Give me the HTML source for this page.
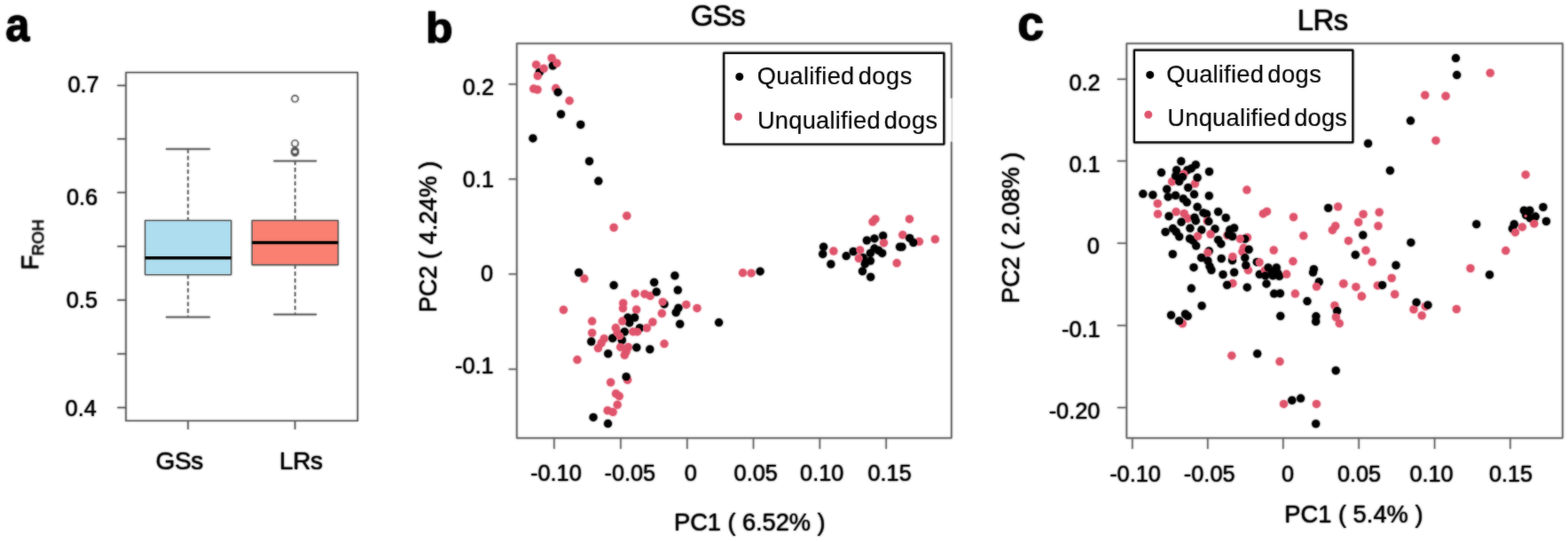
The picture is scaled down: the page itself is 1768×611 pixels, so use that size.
<!DOCTYPE html>
<html lang="en"><head><meta charset="utf-8"><title>Figure</title>
<style>
html,body{margin:0;padding:0;background:#fff;}
body{width:1768px;height:611px;overflow:hidden;}
svg{display:block;}
svg text{font-family:"Liberation Sans",sans-serif;fill:#000;white-space:pre;stroke:#000;stroke-width:0.15px;stroke-linejoin:round;}
</style></head><body>
<svg width="1768" height="611" viewBox="0 0 1768 611">
<defs><filter id="soft" x="0" y="0" width="1768" height="611" filterUnits="userSpaceOnUse" color-interpolation-filters="sRGB"><feGaussianBlur in="SourceGraphic" stdDeviation="0.8" result="b"/><feComponentTransfer in="SourceGraphic" result="s"><feFuncA type="linear" slope="0.72"/></feComponentTransfer><feMerge><feMergeNode in="b"/><feMergeNode in="s"/></feMerge></filter></defs>
<rect x="0" y="0" width="1768" height="611" fill="#fff"/>
<g filter="url(#soft)">
<line x1="212.00" y1="168.10" x2="212.00" y2="248.60" stroke="#555555" stroke-width="1.4" stroke-dasharray="4.6 3.1"/>
<line x1="212.00" y1="309.60" x2="212.00" y2="357.40" stroke="#555555" stroke-width="1.4" stroke-dasharray="4.6 3.1"/>
<line x1="187.00" y1="168.10" x2="236.90" y2="168.10" stroke="#555555" stroke-width="1.5" />
<line x1="187.00" y1="357.40" x2="236.90" y2="357.40" stroke="#555555" stroke-width="1.5" />
<rect x="163.70" y="248.60" width="96.90" height="61.00" stroke="#555555" stroke-width="1.3" fill="#ADDDEE" stroke-linejoin="round"/>
<line x1="163.70" y1="290.80" x2="260.60" y2="290.80" stroke="#000" stroke-width="3.4" />
<line x1="332.70" y1="181.40" x2="332.70" y2="248.60" stroke="#555555" stroke-width="1.4" stroke-dasharray="4.6 3.1"/>
<line x1="332.70" y1="298.50" x2="332.70" y2="354.50" stroke="#555555" stroke-width="1.4" stroke-dasharray="4.6 3.1"/>
<line x1="308.40" y1="181.40" x2="357.00" y2="181.40" stroke="#555555" stroke-width="1.5" />
<line x1="308.40" y1="354.50" x2="357.00" y2="354.50" stroke="#555555" stroke-width="1.5" />
<rect x="284.30" y="248.60" width="96.80" height="49.90" stroke="#555555" stroke-width="1.3" fill="#FA8072" stroke-linejoin="round"/>
<line x1="284.30" y1="273.50" x2="381.10" y2="273.50" stroke="#000" stroke-width="3.4" />
<circle cx="332.6" cy="111.3" r="3.7" fill="none" stroke="#555555" stroke-width="1.2"/>
<circle cx="332.6" cy="161.7" r="3.7" fill="none" stroke="#555555" stroke-width="1.2"/>
<circle cx="332.6" cy="170.0" r="3.7" fill="none" stroke="#555555" stroke-width="1.2"/>
<circle cx="332.6" cy="171.0" r="3.7" fill="none" stroke="#555555" stroke-width="1.2"/>
<circle cx="332.6" cy="172.0" r="3.7" fill="none" stroke="#555555" stroke-width="1.2"/>
<rect x="142.00" y="81.60" width="261.30" height="392.80" stroke="#555555" stroke-width="1.35" fill="none" stroke-linejoin="round"/>
<line x1="132.30" y1="96.40" x2="142.00" y2="96.40" stroke="#555555" stroke-width="1.35" />
<line x1="132.30" y1="156.60" x2="142.00" y2="156.60" stroke="#555555" stroke-width="1.35" />
<line x1="132.30" y1="217.00" x2="142.00" y2="217.00" stroke="#555555" stroke-width="1.35" />
<line x1="132.30" y1="277.70" x2="142.00" y2="277.70" stroke="#555555" stroke-width="1.35" />
<line x1="132.30" y1="338.30" x2="142.00" y2="338.30" stroke="#555555" stroke-width="1.35" />
<line x1="132.30" y1="398.90" x2="142.00" y2="398.90" stroke="#555555" stroke-width="1.35" />
<line x1="132.30" y1="459.50" x2="142.00" y2="459.50" stroke="#555555" stroke-width="1.35" />
<line x1="212.00" y1="474.40" x2="212.00" y2="484.00" stroke="#555555" stroke-width="1.35" />
<line x1="332.60" y1="474.40" x2="332.60" y2="484.00" stroke="#555555" stroke-width="1.35" />
<text x="76.39" y="104.20" font-size="25.3" font-weight="normal" style="letter-spacing:0.000px">0.7</text>
<text x="74.89" y="231.20" font-size="25.3" font-weight="normal" style="letter-spacing:0.000px">0.6</text>
<text x="74.79" y="347.30" font-size="25.3" font-weight="normal" style="letter-spacing:0.000px">0.5</text>
<text x="73.59" y="469.20" font-size="25.3" font-weight="normal" style="letter-spacing:0.000px">0.4</text>
<text x="175.60" y="529.00" font-size="28.0" font-weight="normal" style="letter-spacing:-0.440px">GSs</text>
<text x="315.06" y="529.00" font-size="28.0" font-weight="normal" style="letter-spacing:-0.390px">LRs</text>
<text transform="translate(6.19,45.72) scale(0.9138,1)" font-size="53.27" font-weight="bold" style="stroke-width:0.7px">a</text>
<text transform="translate(43.30,304.42) rotate(-90)" font-size="27.8">F<tspan x="16.28" y="6.0" font-size="18" style="letter-spacing:0.360px">ROH</tspan></text>
<circle cx="608.3" cy="81.4" r="4.5" fill="#000"/>
<circle cx="604.6" cy="72.9" r="4.5" fill="#DF536B"/>
<circle cx="613.1" cy="77.3" r="4.5" fill="#DF536B"/>
<circle cx="606.3" cy="85.5" r="4.5" fill="#DF536B"/>
<circle cx="623.3" cy="74.1" r="4.5" fill="#000"/>
<circle cx="622.1" cy="65.5" r="4.5" fill="#DF536B"/>
<circle cx="627.8" cy="71.2" r="4.5" fill="#DF536B"/>
<circle cx="601.7" cy="100.1" r="4.5" fill="#DF536B"/>
<circle cx="606.0" cy="101.0" r="4.5" fill="#DF536B"/>
<circle cx="626.7" cy="99.6" r="4.5" fill="#DF536B"/>
<circle cx="629.1" cy="103.9" r="4.5" fill="#000"/>
<circle cx="642.1" cy="113.6" r="4.5" fill="#DF536B"/>
<circle cx="632.5" cy="128.7" r="4.5" fill="#000"/>
<circle cx="654.7" cy="140.5" r="4.5" fill="#000"/>
<circle cx="600.9" cy="155.9" r="4.5" fill="#000"/>
<circle cx="664.5" cy="181.8" r="4.5" fill="#000"/>
<circle cx="674.8" cy="204.1" r="4.5" fill="#000"/>
<circle cx="706.8" cy="243.3" r="4.5" fill="#DF536B"/>
<circle cx="692.1" cy="256.5" r="4.5" fill="#DF536B"/>
<circle cx="652.6" cy="307.3" r="4.5" fill="#000"/>
<circle cx="658.8" cy="314.1" r="4.5" fill="#DF536B"/>
<circle cx="692.1" cy="321.6" r="4.5" fill="#000"/>
<circle cx="837.5" cy="307.6" r="4.5" fill="#DF536B"/>
<circle cx="847.1" cy="307.9" r="4.5" fill="#DF536B"/>
<circle cx="857.1" cy="305.9" r="4.5" fill="#000"/>
<circle cx="810.6" cy="363.6" r="4.5" fill="#000"/>
<circle cx="716.2" cy="330.9" r="4.5" fill="#DF536B"/>
<circle cx="726.9" cy="331.4" r="4.5" fill="#DF536B"/>
<circle cx="733.2" cy="333.6" r="4.5" fill="#DF536B"/>
<circle cx="737.6" cy="318.2" r="4.5" fill="#000"/>
<circle cx="740.2" cy="329.0" r="4.5" fill="#000"/>
<circle cx="760.9" cy="310.7" r="4.5" fill="#000"/>
<circle cx="764.3" cy="327.0" r="4.5" fill="#000"/>
<circle cx="749.0" cy="342.7" r="4.5" fill="#000"/>
<circle cx="747.2" cy="340.4" r="4.5" fill="#DF536B"/>
<circle cx="764.9" cy="347.2" r="4.5" fill="#000"/>
<circle cx="762.2" cy="352.2" r="4.5" fill="#000"/>
<circle cx="773.8" cy="343.4" r="4.5" fill="#DF536B"/>
<circle cx="786.0" cy="347.4" r="4.5" fill="#DF536B"/>
<circle cx="702.7" cy="341.8" r="4.5" fill="#DF536B"/>
<circle cx="702.4" cy="347.6" r="4.5" fill="#DF536B"/>
<circle cx="717.6" cy="349.0" r="4.5" fill="#DF536B"/>
<circle cx="746.3" cy="353.3" r="4.5" fill="#DF536B"/>
<circle cx="707.9" cy="358.0" r="4.5" fill="#000"/>
<circle cx="715.6" cy="358.0" r="4.5" fill="#000"/>
<circle cx="709.7" cy="363.9" r="4.5" fill="#000"/>
<circle cx="701.8" cy="362.1" r="4.5" fill="#DF536B"/>
<circle cx="667.6" cy="362.1" r="4.5" fill="#DF536B"/>
<circle cx="735.9" cy="363.0" r="4.5" fill="#DF536B"/>
<circle cx="721.4" cy="369.8" r="4.5" fill="#000"/>
<circle cx="729.3" cy="369.8" r="4.5" fill="#DF536B"/>
<circle cx="713.8" cy="373.9" r="4.5" fill="#DF536B"/>
<circle cx="718.7" cy="373.9" r="4.5" fill="#DF536B"/>
<circle cx="766.7" cy="365.3" r="4.5" fill="#000"/>
<circle cx="690.7" cy="381.3" r="4.5" fill="#000"/>
<circle cx="701.3" cy="383.5" r="4.5" fill="#000"/>
<circle cx="694.3" cy="369.6" r="4.5" fill="#DF536B"/>
<circle cx="696.1" cy="375.2" r="4.5" fill="#DF536B"/>
<circle cx="704.2" cy="374.0" r="4.5" fill="#000"/>
<circle cx="698.8" cy="378.8" r="4.5" fill="#DF536B"/>
<circle cx="667.6" cy="375.2" r="4.5" fill="#DF536B"/>
<circle cx="681.2" cy="381.7" r="4.5" fill="#DF536B"/>
<circle cx="666.7" cy="385.0" r="4.5" fill="#000"/>
<circle cx="749.0" cy="387.6" r="4.5" fill="#DF536B"/>
<circle cx="678.0" cy="386.7" r="4.5" fill="#DF536B"/>
<circle cx="674.4" cy="392.6" r="4.5" fill="#DF536B"/>
<circle cx="699.7" cy="391.3" r="4.5" fill="#DF536B"/>
<circle cx="708.3" cy="391.3" r="4.5" fill="#DF536B"/>
<circle cx="706.1" cy="396.2" r="4.5" fill="#DF536B"/>
<circle cx="704.3" cy="400.3" r="4.5" fill="#DF536B"/>
<circle cx="717.8" cy="391.7" r="4.5" fill="#000"/>
<circle cx="732.8" cy="393.7" r="4.5" fill="#000"/>
<circle cx="685.7" cy="398.8" r="4.5" fill="#000"/>
<circle cx="650.9" cy="405.6" r="4.5" fill="#DF536B"/>
<circle cx="635.4" cy="349.3" r="4.5" fill="#DF536B"/>
<circle cx="707.6" cy="428.2" r="4.5" fill="#DF536B"/>
<circle cx="706.1" cy="424.8" r="4.5" fill="#000"/>
<circle cx="688.6" cy="431.0" r="4.5" fill="#DF536B"/>
<circle cx="694.5" cy="443.7" r="4.5" fill="#DF536B"/>
<circle cx="698.3" cy="446.6" r="4.5" fill="#DF536B"/>
<circle cx="696.2" cy="456.3" r="4.5" fill="#DF536B"/>
<circle cx="685.1" cy="462.8" r="4.5" fill="#DF536B"/>
<circle cx="691.1" cy="464.5" r="4.5" fill="#DF536B"/>
<circle cx="669.0" cy="470.4" r="4.5" fill="#000"/>
<circle cx="685.5" cy="477.6" r="4.5" fill="#000"/>
<circle cx="987.0" cy="246.9" r="4.5" fill="#DF536B"/>
<circle cx="984.0" cy="250.1" r="4.5" fill="#DF536B"/>
<circle cx="1025.5" cy="246.9" r="4.5" fill="#DF536B"/>
<circle cx="1017.8" cy="264.7" r="4.5" fill="#DF536B"/>
<circle cx="1036.4" cy="272.2" r="4.5" fill="#DF536B"/>
<circle cx="1025.7" cy="268.4" r="4.5" fill="#000"/>
<circle cx="1029.9" cy="273.5" r="4.5" fill="#000"/>
<circle cx="1054.4" cy="269.8" r="4.5" fill="#DF536B"/>
<circle cx="995.7" cy="265.8" r="4.5" fill="#000"/>
<circle cx="986.0" cy="268.9" r="4.5" fill="#000"/>
<circle cx="977.4" cy="271.0" r="4.5" fill="#000"/>
<circle cx="996.5" cy="273.8" r="4.5" fill="#DF536B"/>
<circle cx="1014.6" cy="278.2" r="4.5" fill="#000"/>
<circle cx="1017.0" cy="278.2" r="4.5" fill="#000"/>
<circle cx="928.6" cy="278.3" r="4.5" fill="#000"/>
<circle cx="927.7" cy="286.4" r="4.5" fill="#000"/>
<circle cx="939.9" cy="283.0" r="4.5" fill="#DF536B"/>
<circle cx="936.9" cy="297.8" r="4.5" fill="#000"/>
<circle cx="954.2" cy="288.6" r="4.5" fill="#000"/>
<circle cx="962.2" cy="283.5" r="4.5" fill="#000"/>
<circle cx="969.7" cy="281.9" r="4.5" fill="#DF536B"/>
<circle cx="973.3" cy="290.5" r="4.5" fill="#000"/>
<circle cx="968.4" cy="291.3" r="4.5" fill="#DF536B"/>
<circle cx="986.0" cy="280.1" r="4.5" fill="#000"/>
<circle cx="994.7" cy="285.4" r="4.5" fill="#000"/>
<circle cx="990.6" cy="282.3" r="4.5" fill="#000"/>
<circle cx="981.4" cy="285.4" r="4.5" fill="#000"/>
<circle cx="981.4" cy="294.0" r="4.5" fill="#000"/>
<circle cx="975.3" cy="297.6" r="4.5" fill="#000"/>
<circle cx="972.5" cy="305.7" r="4.5" fill="#000"/>
<circle cx="981.7" cy="312.3" r="4.5" fill="#000"/>
<circle cx="1011.2" cy="296.6" r="4.5" fill="#DF536B"/>
<rect x="582.70" y="49.00" width="490.10" height="444.85" stroke="#636363" stroke-width="1.5" fill="none" stroke-linejoin="round"/>
<line x1="1072.80" y1="111.00" x2="1072.80" y2="159.50" stroke="#fff" stroke-width="3.4" />
<line x1="1073.30" y1="110.60" x2="1073.30" y2="159.80" stroke="#d2d2d2" stroke-width="1.5" />
<line x1="573.60" y1="94.90" x2="582.70" y2="94.90" stroke="#636363" stroke-width="1.35" />
<line x1="573.60" y1="201.90" x2="582.70" y2="201.90" stroke="#636363" stroke-width="1.35" />
<line x1="573.60" y1="309.00" x2="582.70" y2="309.00" stroke="#636363" stroke-width="1.35" />
<line x1="573.60" y1="416.20" x2="582.70" y2="416.20" stroke="#636363" stroke-width="1.35" />
<line x1="624.80" y1="493.85" x2="624.80" y2="506.00" stroke="#636363" stroke-width="1.35" />
<line x1="699.90" y1="493.85" x2="699.90" y2="506.00" stroke="#636363" stroke-width="1.35" />
<line x1="774.80" y1="493.85" x2="774.80" y2="506.00" stroke="#636363" stroke-width="1.35" />
<line x1="849.50" y1="493.85" x2="849.50" y2="506.00" stroke="#636363" stroke-width="1.35" />
<line x1="924.40" y1="493.85" x2="924.40" y2="506.00" stroke="#636363" stroke-width="1.35" />
<line x1="999.20" y1="493.85" x2="999.20" y2="506.00" stroke="#636363" stroke-width="1.35" />
<text x="521.79" y="107.00" font-size="25.3" font-weight="normal" style="letter-spacing:0.000px">0.2</text>
<text x="521.79" y="210.90" font-size="25.3" font-weight="normal" style="letter-spacing:0.000px">0.1</text>
<text x="542.09" y="316.50" font-size="25.3" font-weight="normal" style="letter-spacing:0.000px">0</text>
<text x="513.06" y="421.00" font-size="25.3" font-weight="normal" style="letter-spacing:0.000px">-0.1</text>
<text x="598.06" y="541.90" font-size="25.3" font-weight="normal" style="letter-spacing:0.000px">-0.10</text>
<text x="681.46" y="541.90" font-size="25.3" font-weight="normal" style="letter-spacing:0.000px">-0.05</text>
<text x="771.69" y="541.90" font-size="25.3" font-weight="normal" style="letter-spacing:0.000px">0</text>
<text x="827.59" y="541.90" font-size="25.3" font-weight="normal" style="letter-spacing:0.000px">0.05</text>
<text x="902.09" y="541.90" font-size="25.3" font-weight="normal" style="letter-spacing:0.000px">0.10</text>
<text x="978.49" y="541.90" font-size="25.3" font-weight="normal" style="letter-spacing:0.000px">0.15</text>
<text x="760.02" y="598.00" font-size="27.3" font-weight="normal" style="letter-spacing:-0.069px">PC1 ( 6.52% )</text>
<text transform="translate(491.80,352.28) rotate(-90)" font-size="27.3" font-weight="normal" style="letter-spacing:-0.077px">PC2 ( 4.24% )</text>
<text x="778.85" y="29.30" font-size="33.0" font-weight="normal" style="letter-spacing:-1.140px">GSs</text>
<text transform="translate(480.01,47.57) scale(1.0479,1)" font-size="47.62" font-weight="bold" style="stroke-width:0.7px">b</text>
<rect x="816.3" y="59.85" width="248.00" height="102.65" fill="#fff" stroke="#000" stroke-width="2.2" stroke-linejoin="round"/>
<circle cx="833.8" cy="86.5" r="4.5" fill="#000"/>
<circle cx="832.4" cy="131.5" r="4.5" fill="#DF536B"/>
<text y="94.80" font-size="27.3"><tspan x="853.77" style="letter-spacing:0.213px">Qualified</tspan> <tspan x="967.71" style="letter-spacing:0.481px">dogs</tspan></text>
<text y="144.50" font-size="27.3"><tspan x="853.95" style="letter-spacing:0.219px">Unqualified</tspan> <tspan x="996.81" style="letter-spacing:0.381px">dogs</tspan></text>
<circle cx="1641.5" cy="65.6" r="4.5" fill="#000"/>
<circle cx="1642.7" cy="84.6" r="4.5" fill="#000"/>
<circle cx="1680.3" cy="82.2" r="4.5" fill="#DF536B"/>
<circle cx="1606.8" cy="107.3" r="4.5" fill="#DF536B"/>
<circle cx="1630.1" cy="108.2" r="4.5" fill="#DF536B"/>
<circle cx="1590.5" cy="136.1" r="4.5" fill="#000"/>
<circle cx="1542.6" cy="161.7" r="4.5" fill="#000"/>
<circle cx="1619.0" cy="158.4" r="4.5" fill="#DF536B"/>
<circle cx="1567.4" cy="192.3" r="4.5" fill="#000"/>
<circle cx="1720.2" cy="196.9" r="4.5" fill="#DF536B"/>
<circle cx="1508.7" cy="233.0" r="4.5" fill="#DF536B"/>
<circle cx="1497.7" cy="234.5" r="4.5" fill="#000"/>
<circle cx="1537.1" cy="241.5" r="4.5" fill="#DF536B"/>
<circle cx="1555.2" cy="239.3" r="4.5" fill="#DF536B"/>
<circle cx="1531.7" cy="250.5" r="4.5" fill="#DF536B"/>
<circle cx="1554.0" cy="254.8" r="4.5" fill="#DF536B"/>
<circle cx="1505.8" cy="254.8" r="4.5" fill="#DF536B"/>
<circle cx="1502.4" cy="259.4" r="4.5" fill="#DF536B"/>
<circle cx="1536.8" cy="265.0" r="4.5" fill="#000"/>
<circle cx="1520.5" cy="271.4" r="4.5" fill="#DF536B"/>
<circle cx="1540.0" cy="282.2" r="4.5" fill="#DF536B"/>
<circle cx="1528.3" cy="287.3" r="4.5" fill="#000"/>
<circle cx="1547.2" cy="295.2" r="4.5" fill="#DF536B"/>
<circle cx="1590.9" cy="273.4" r="4.5" fill="#000"/>
<circle cx="1664.8" cy="252.8" r="4.5" fill="#000"/>
<circle cx="1697.8" cy="282.6" r="4.5" fill="#DF536B"/>
<circle cx="1740.0" cy="233.5" r="4.5" fill="#000"/>
<circle cx="1743.5" cy="249.5" r="4.5" fill="#000"/>
<circle cx="1718.4" cy="237.3" r="4.5" fill="#000"/>
<circle cx="1724.9" cy="237.3" r="4.5" fill="#000"/>
<circle cx="1720.7" cy="242.6" r="4.5" fill="#000"/>
<circle cx="1725.2" cy="245.7" r="4.5" fill="#000"/>
<circle cx="1731.3" cy="244.1" r="4.5" fill="#000"/>
<circle cx="1720.3" cy="243.5" r="1.7" fill="#DF536B"/>
<circle cx="1729.8" cy="252.0" r="4.5" fill="#DF536B"/>
<circle cx="1707.3" cy="252.8" r="4.5" fill="#000"/>
<circle cx="1705.4" cy="257.8" r="4.5" fill="#000"/>
<circle cx="1716.4" cy="255.9" r="4.5" fill="#DF536B"/>
<circle cx="1708.5" cy="261.9" r="4.5" fill="#DF536B"/>
<circle cx="1574.0" cy="299.0" r="4.5" fill="#000"/>
<circle cx="1658.0" cy="302.5" r="4.5" fill="#DF536B"/>
<circle cx="1679.6" cy="309.7" r="4.5" fill="#000"/>
<circle cx="1569.2" cy="313.5" r="4.5" fill="#DF536B"/>
<circle cx="1514.8" cy="319.9" r="4.5" fill="#DF536B"/>
<circle cx="1528.9" cy="323.4" r="4.5" fill="#DF536B"/>
<circle cx="1553.3" cy="321.9" r="4.5" fill="#DF536B"/>
<circle cx="1558.6" cy="321.4" r="4.5" fill="#000"/>
<circle cx="1535.3" cy="333.9" r="4.5" fill="#DF536B"/>
<circle cx="1572.7" cy="331.7" r="4.5" fill="#DF536B"/>
<circle cx="1597.1" cy="340.9" r="4.5" fill="#000"/>
<circle cx="1607.3" cy="345.4" r="4.5" fill="#DF536B"/>
<circle cx="1610.0" cy="343.9" r="4.5" fill="#000"/>
<circle cx="1594.0" cy="348.8" r="4.5" fill="#DF536B"/>
<circle cx="1603.2" cy="355.8" r="4.5" fill="#DF536B"/>
<circle cx="1642.3" cy="348.5" r="4.5" fill="#DF536B"/>
<circle cx="1504.9" cy="344.5" r="4.5" fill="#DF536B"/>
<circle cx="1507.7" cy="350.6" r="4.5" fill="#000"/>
<circle cx="1506.4" cy="357.5" r="4.5" fill="#DF536B"/>
<circle cx="1510.3" cy="364.6" r="4.5" fill="#DF536B"/>
<circle cx="1331.8" cy="181.8" r="4.5" fill="#000"/>
<circle cx="1348.3" cy="185.8" r="4.5" fill="#000"/>
<circle cx="1343.3" cy="189.9" r="4.5" fill="#000"/>
<circle cx="1338.8" cy="191.7" r="4.5" fill="#000"/>
<circle cx="1326.6" cy="191.7" r="4.5" fill="#000"/>
<circle cx="1309.5" cy="194.6" r="4.5" fill="#000"/>
<circle cx="1363.5" cy="193.5" r="4.5" fill="#000"/>
<circle cx="1334.9" cy="196.0" r="4.5" fill="#DF536B"/>
<circle cx="1321.6" cy="204.8" r="4.5" fill="#DF536B"/>
<circle cx="1333.4" cy="199.4" r="4.5" fill="#000"/>
<circle cx="1325.6" cy="198.4" r="4.5" fill="#000"/>
<circle cx="1347.4" cy="207.1" r="4.5" fill="#DF536B"/>
<circle cx="1350.1" cy="200.3" r="4.5" fill="#000"/>
<circle cx="1329.6" cy="204.5" r="4.5" fill="#000"/>
<circle cx="1339.7" cy="211.5" r="4.5" fill="#000"/>
<circle cx="1315.7" cy="213.2" r="4.5" fill="#000"/>
<circle cx="1288.8" cy="218.6" r="4.5" fill="#000"/>
<circle cx="1299.9" cy="219.8" r="4.5" fill="#000"/>
<circle cx="1325.5" cy="220.3" r="4.5" fill="#000"/>
<circle cx="1317.1" cy="221.9" r="4.5" fill="#000"/>
<circle cx="1346.5" cy="219.1" r="4.5" fill="#000"/>
<circle cx="1334.2" cy="224.0" r="4.5" fill="#000"/>
<circle cx="1363.3" cy="220.7" r="4.5" fill="#000"/>
<circle cx="1405.9" cy="214.1" r="4.5" fill="#DF536B"/>
<circle cx="1305.3" cy="229.5" r="4.5" fill="#DF536B"/>
<circle cx="1338.3" cy="228.1" r="4.5" fill="#000"/>
<circle cx="1305.5" cy="241.2" r="4.5" fill="#DF536B"/>
<circle cx="1350.1" cy="233.3" r="4.5" fill="#000"/>
<circle cx="1356.9" cy="239.9" r="4.5" fill="#000"/>
<circle cx="1360.5" cy="241.2" r="4.5" fill="#000"/>
<circle cx="1373.6" cy="238.8" r="4.5" fill="#000"/>
<circle cx="1382.2" cy="245.5" r="4.5" fill="#000"/>
<circle cx="1326.1" cy="238.8" r="4.5" fill="#DF536B"/>
<circle cx="1335.2" cy="240.8" r="4.5" fill="#DF536B"/>
<circle cx="1339.2" cy="246.2" r="4.5" fill="#DF536B"/>
<circle cx="1318.0" cy="243.7" r="4.5" fill="#000"/>
<circle cx="1346.9" cy="245.3" r="4.5" fill="#000"/>
<circle cx="1348.3" cy="248.9" r="4.5" fill="#000"/>
<circle cx="1332.0" cy="250.3" r="4.5" fill="#000"/>
<circle cx="1361.3" cy="249.0" r="4.5" fill="#DF536B"/>
<circle cx="1362.8" cy="249.6" r="4.5" fill="#000"/>
<circle cx="1424.3" cy="240.9" r="4.5" fill="#DF536B"/>
<circle cx="1428.5" cy="238.4" r="4.5" fill="#DF536B"/>
<circle cx="1322.5" cy="257.6" r="4.5" fill="#000"/>
<circle cx="1314.1" cy="261.5" r="4.5" fill="#000"/>
<circle cx="1326.1" cy="261.2" r="4.5" fill="#000"/>
<circle cx="1329.7" cy="266.7" r="4.5" fill="#000"/>
<circle cx="1341.9" cy="257.3" r="4.5" fill="#000"/>
<circle cx="1354.8" cy="259.1" r="4.5" fill="#000"/>
<circle cx="1370.0" cy="258.0" r="4.5" fill="#000"/>
<circle cx="1391.6" cy="257.0" r="4.5" fill="#000"/>
<circle cx="1386.7" cy="259.1" r="4.5" fill="#000"/>
<circle cx="1384.0" cy="265.3" r="4.5" fill="#DF536B"/>
<circle cx="1385.1" cy="264.6" r="4.5" fill="#000"/>
<circle cx="1389.6" cy="266.5" r="4.5" fill="#000"/>
<circle cx="1341.5" cy="269.0" r="4.5" fill="#000"/>
<circle cx="1345.0" cy="271.0" r="4.5" fill="#000"/>
<circle cx="1348.7" cy="277.1" r="4.5" fill="#000"/>
<circle cx="1350.5" cy="266.3" r="4.5" fill="#DF536B"/>
<circle cx="1365.0" cy="264.0" r="4.5" fill="#DF536B"/>
<circle cx="1373.6" cy="270.4" r="4.5" fill="#000"/>
<circle cx="1376.8" cy="274.9" r="4.5" fill="#000"/>
<circle cx="1406.4" cy="267.8" r="4.5" fill="#DF536B"/>
<circle cx="1403.8" cy="269.2" r="4.5" fill="#000"/>
<circle cx="1398.5" cy="269.2" r="4.5" fill="#DF536B"/>
<circle cx="1402.3" cy="279.6" r="4.5" fill="#DF536B"/>
<circle cx="1400.9" cy="283.8" r="4.5" fill="#DF536B"/>
<circle cx="1408.1" cy="281.2" r="4.5" fill="#000"/>
<circle cx="1322.3" cy="286.5" r="4.5" fill="#000"/>
<circle cx="1363.2" cy="283.0" r="4.5" fill="#000"/>
<circle cx="1361.9" cy="284.8" r="4.5" fill="#DF536B"/>
<circle cx="1354.6" cy="290.5" r="4.5" fill="#000"/>
<circle cx="1361.9" cy="294.0" r="4.5" fill="#000"/>
<circle cx="1377.2" cy="291.5" r="4.5" fill="#000"/>
<circle cx="1389.5" cy="293.5" r="4.5" fill="#000"/>
<circle cx="1389.9" cy="289.5" r="4.5" fill="#DF536B"/>
<circle cx="1403.8" cy="290.6" r="4.5" fill="#000"/>
<circle cx="1407.4" cy="304.6" r="4.5" fill="#DF536B"/>
<circle cx="1404.8" cy="299.0" r="4.5" fill="#000"/>
<circle cx="1417.2" cy="295.4" r="4.5" fill="#000"/>
<circle cx="1420.0" cy="295.8" r="4.5" fill="#DF536B"/>
<circle cx="1346.0" cy="301.4" r="4.5" fill="#000"/>
<circle cx="1364.0" cy="300.3" r="4.5" fill="#000"/>
<circle cx="1365.9" cy="304.5" r="4.5" fill="#000"/>
<circle cx="1391.6" cy="307.0" r="4.5" fill="#000"/>
<circle cx="1379.0" cy="309.5" r="4.5" fill="#000"/>
<circle cx="1420.3" cy="309.2" r="4.5" fill="#000"/>
<circle cx="1426.1" cy="304.9" r="4.5" fill="#DF536B"/>
<circle cx="1430.0" cy="301.7" r="4.5" fill="#000"/>
<circle cx="1426.8" cy="310.7" r="4.5" fill="#000"/>
<circle cx="1428.0" cy="319.9" r="4.5" fill="#000"/>
<circle cx="1389.9" cy="319.4" r="4.5" fill="#DF536B"/>
<circle cx="1383.6" cy="321.2" r="4.5" fill="#000"/>
<circle cx="1406.2" cy="323.9" r="4.5" fill="#000"/>
<circle cx="1343.3" cy="325.1" r="4.5" fill="#000"/>
<circle cx="1355.1" cy="344.8" r="4.5" fill="#000"/>
<circle cx="1320.5" cy="355.2" r="4.5" fill="#000"/>
<circle cx="1336.5" cy="354.0" r="4.5" fill="#000"/>
<circle cx="1339.2" cy="356.2" r="4.5" fill="#000"/>
<circle cx="1333.3" cy="364.8" r="4.5" fill="#DF536B"/>
<circle cx="1329.7" cy="361.7" r="4.5" fill="#000"/>
<circle cx="1458.5" cy="244.7" r="4.5" fill="#DF536B"/>
<circle cx="1469.8" cy="265.8" r="4.5" fill="#DF536B"/>
<circle cx="1436.2" cy="282.0" r="4.5" fill="#DF536B"/>
<circle cx="1457.9" cy="294.6" r="4.5" fill="#DF536B"/>
<circle cx="1439.3" cy="301.7" r="4.5" fill="#000"/>
<circle cx="1434.3" cy="306.2" r="4.5" fill="#000"/>
<circle cx="1440.7" cy="308.0" r="4.5" fill="#000"/>
<circle cx="1442.5" cy="311.2" r="4.5" fill="#000"/>
<circle cx="1435.2" cy="310.7" r="4.5" fill="#000"/>
<circle cx="1450.6" cy="309.1" r="4.5" fill="#DF536B"/>
<circle cx="1481.4" cy="303.5" r="4.5" fill="#000"/>
<circle cx="1480.5" cy="307.1" r="4.5" fill="#000"/>
<circle cx="1487.3" cy="317.8" r="4.5" fill="#000"/>
<circle cx="1484.5" cy="323.0" r="4.5" fill="#DF536B"/>
<circle cx="1514.9" cy="319.8" r="4.5" fill="#DF536B"/>
<circle cx="1535.3" cy="334.0" r="4.5" fill="#DF536B"/>
<circle cx="1436.6" cy="331.1" r="4.5" fill="#000"/>
<circle cx="1443.4" cy="330.8" r="4.5" fill="#000"/>
<circle cx="1460.4" cy="331.1" r="4.5" fill="#DF536B"/>
<circle cx="1474.0" cy="339.6" r="4.5" fill="#000"/>
<circle cx="1443.8" cy="356.2" r="4.5" fill="#000"/>
<circle cx="1483.9" cy="356.6" r="4.5" fill="#000"/>
<circle cx="1483.7" cy="362.5" r="4.5" fill="#000"/>
<circle cx="1388.8" cy="400.9" r="4.5" fill="#DF536B"/>
<circle cx="1417.7" cy="398.7" r="4.5" fill="#000"/>
<circle cx="1443.0" cy="407.6" r="4.5" fill="#DF536B"/>
<circle cx="1506.2" cy="417.8" r="4.5" fill="#000"/>
<circle cx="1447.5" cy="455.4" r="4.5" fill="#DF536B"/>
<circle cx="1456.8" cy="451.2" r="4.5" fill="#000"/>
<circle cx="1466.6" cy="449.1" r="4.5" fill="#000"/>
<circle cx="1484.4" cy="455.4" r="4.5" fill="#DF536B"/>
<circle cx="1483.7" cy="477.8" r="4.5" fill="#000"/>
<rect x="1270.35" y="49.05" width="491.55" height="444.75" stroke="#636363" stroke-width="1.5" fill="none" stroke-linejoin="round"/>
<line x1="1259.80" y1="89.30" x2="1270.35" y2="89.30" stroke="#636363" stroke-width="1.35" />
<line x1="1259.80" y1="181.50" x2="1270.35" y2="181.50" stroke="#636363" stroke-width="1.35" />
<line x1="1259.80" y1="274.20" x2="1270.35" y2="274.20" stroke="#636363" stroke-width="1.35" />
<line x1="1259.80" y1="366.90" x2="1270.35" y2="366.90" stroke="#636363" stroke-width="1.35" />
<line x1="1259.80" y1="459.50" x2="1270.35" y2="459.50" stroke="#636363" stroke-width="1.35" />
<line x1="1276.80" y1="493.80" x2="1276.80" y2="506.00" stroke="#636363" stroke-width="1.35" />
<line x1="1361.80" y1="493.80" x2="1361.80" y2="506.00" stroke="#636363" stroke-width="1.35" />
<line x1="1446.80" y1="493.80" x2="1446.80" y2="506.00" stroke="#636363" stroke-width="1.35" />
<line x1="1532.20" y1="493.80" x2="1532.20" y2="506.00" stroke="#636363" stroke-width="1.35" />
<line x1="1617.60" y1="493.80" x2="1617.60" y2="506.00" stroke="#636363" stroke-width="1.35" />
<line x1="1702.90" y1="493.80" x2="1702.90" y2="506.00" stroke="#636363" stroke-width="1.35" />
<text x="1205.39" y="101.70" font-size="25.3" font-weight="normal" style="letter-spacing:0.000px">0.2</text>
<text x="1205.39" y="193.80" font-size="25.3" font-weight="normal" style="letter-spacing:0.000px">0.1</text>
<text x="1225.79" y="286.10" font-size="25.3" font-weight="normal" style="letter-spacing:0.000px">0</text>
<text x="1196.96" y="379.60" font-size="25.3" font-weight="normal" style="letter-spacing:0.000px">-0.1</text>
<text x="1182.66" y="471.90" font-size="25.3" font-weight="normal" style="letter-spacing:0.000px">-0.20</text>
<text x="1251.16" y="542.60" font-size="25.3" font-weight="normal" style="letter-spacing:0.000px">-0.10</text>
<text x="1334.86" y="542.60" font-size="25.3" font-weight="normal" style="letter-spacing:0.000px">-0.05</text>
<text x="1444.99" y="542.60" font-size="25.3" font-weight="normal" style="letter-spacing:0.000px">0</text>
<text x="1507.89" y="542.60" font-size="25.3" font-weight="normal" style="letter-spacing:0.000px">0.05</text>
<text x="1589.39" y="542.60" font-size="25.3" font-weight="normal" style="letter-spacing:0.000px">0.10</text>
<text x="1678.89" y="542.60" font-size="25.3" font-weight="normal" style="letter-spacing:0.000px">0.15</text>
<text x="1448.22" y="589.20" font-size="27.3" font-weight="normal" style="letter-spacing:0.006px">PC1 ( 5.4% )</text>
<text transform="translate(1149.00,341.88) rotate(-90)" font-size="27.3" font-weight="normal" style="letter-spacing:-0.110px">PC2 ( 2.08% )</text>
<text x="1462.86" y="33.80" font-size="33.0" font-weight="normal" style="letter-spacing:-0.640px">LRs</text>
<text transform="translate(1147.31,44.90) scale(0.9667,1)" font-size="55.45" font-weight="bold" style="stroke-width:0.7px">c</text>
<rect x="1279.0" y="56.6" width="246.30" height="103.80" fill="#fff" stroke="#000" stroke-width="2.2" stroke-linejoin="round"/>
<circle cx="1296.7" cy="84.4" r="4.5" fill="#000"/>
<circle cx="1294.8" cy="129.2" r="4.5" fill="#DF536B"/>
<text y="92.60" font-size="27.3"><tspan x="1315.27" style="letter-spacing:0.226px">Qualified</tspan> <tspan x="1429.31" style="letter-spacing:0.481px">dogs</tspan></text>
<text y="142.30" font-size="27.3"><tspan x="1316.35" style="letter-spacing:0.229px">Unqualified</tspan> <tspan x="1459.31" style="letter-spacing:0.114px">dogs</tspan></text>
</g>
</svg>
</body></html>
